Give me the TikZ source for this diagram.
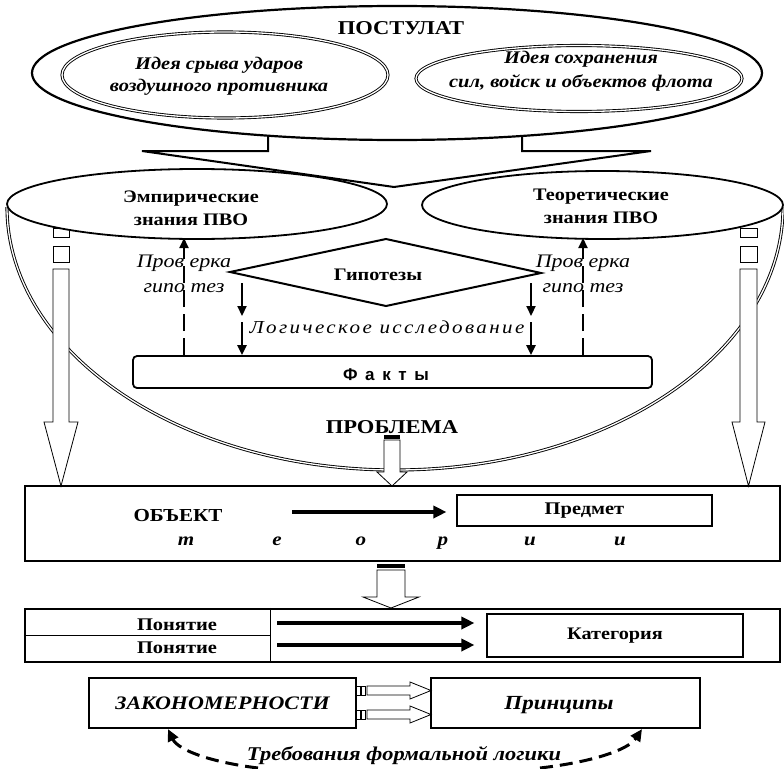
\documentclass[tikz,border=0pt]{standalone}
\usepackage{fontspec}
\setmainfont{Liberation Serif}[FakeStretch=1.15]
\newfontfamily\spacedit{Liberation Serif}[FakeStretch=1.15,LetterSpace=13]
\newfontfamily\spacedsans{Liberation Sans}[LetterSpace=45]
\usetikzlibrary{arrows.meta}
\newcommand{\fs}[1]{\fontsize{#1}{#1}\selectfont}
\begin{document}
\begin{tikzpicture}[x=1pt,y=-1pt,
  lbl/.style={inner sep=0pt, anchor=base},
  boxthick/.style={draw, line width=2.2pt, inner sep=0pt},
  boxthin/.style={draw, line width=1.1pt, inner sep=0pt},
  dbl/.style={double, double distance=1.3pt, line width=0.9pt},
  hollow/.style={draw, fill=white, line width=0.8pt, line join=miter},
  solidarr/.style={line width=2.2pt, -{Triangle[length=10pt,width=9pt]}},
  bigarr/.style={line width=3.5pt, -{Triangle[length=13pt,width=12pt]}},
  dasharr/.style={line width=2pt, dash pattern=on 17pt off 7pt, -{Triangle[length=10pt,width=9pt]}},
  dashcurve/.style={line width=3pt, dash pattern=on 13pt off 7pt, -{Triangle[length=12pt,width=11pt]}},
]
\useasboundingbox (0,0) rectangle (784,768);
\fill[white] (0,0) rectangle (784,768);

% bowl
\draw[dbl] (7,207) arc[start angle=180, end angle=0, x radius=388, y radius=263];

% hollow arrows left and right
\draw[hollow] (53,269) -- (69,269) -- (69,422) -- (78,422) -- (61,486) -- (44,422) -- (53,422) -- cycle;
\draw[hollow] (53,246) rectangle (69,262);
\draw[hollow] (53,228) rectangle (69,237);
\draw[hollow] (740,269) -- (757,269) -- (757,422) -- (765,422) -- (748.5,486) -- (732,422) -- (740,422) -- cycle;
\draw[hollow] (740,246) rectangle (757,262);
\draw[hollow] (740,228) rectangle (757,237);

% POSTULAT
\draw[line width=2.2pt] (397,73) ellipse [x radius=365, y radius=67];
\node[lbl, font=\bfseries\fs{19.6}] (post) at (401,35) {ПОСТУЛАТ};
\draw[dbl] (225,75) ellipse [x radius=163, y radius=43];
\draw[dbl] (579,78.5) ellipse [x radius=163, y radius=33];
\node[lbl, font=\bfseries\itshape\fs{17.8}] (i1a) at (219,70) {Идея срыва ударов};
\node[lbl, font=\bfseries\itshape\fs{17.8}] (i1b) at (219,92) {воздушного противника};
\node[lbl, font=\bfseries\itshape\fs{17.8}] (i2a) at (581,63.5) {Идея сохранения};
\node[lbl, font=\bfseries\itshape\fs{17.8}] (i2b) at (581,87) {сил, войск и объектов флота};

% knowledge ellipses
\draw[line width=1.8pt, fill=white] (197,204) ellipse [x radius=190, y radius=35];
\draw[line width=1.8pt, fill=white] (602.5,205) ellipse [x radius=180.5, y radius=34];
\node[lbl, font=\bfseries\fs{17.6}] (e1) at (191,202) {Эмпирические};
\node[lbl, font=\bfseries\fs{17.6}] (e2) at (191,225) {знания ПВО};
\node[lbl, font=\bfseries\fs{17.6}] (t1) at (601,200) {Теоретические};
\node[lbl, font=\bfseries\fs{17.6}] (t2) at (601,223) {знания ПВО};

% funnel
\draw[line width=2pt, line join=miter] (268,135) -- (268,151) -- (142,151) -- (394,187) -- (651,151) -- (522,151) -- (522,135);

% hypotheses
\draw[line width=2pt, fill=white, line join=miter] (230,272) -- (386,239) -- (541,273) -- (386,306) -- cycle;
\node[lbl, font=\bfseries\fs{17.6}] (hyp) at (378,280) {Гипотезы};

% facts
\node[draw, line width=1.8pt, rounded corners=4pt, minimum width=519pt, minimum height=32pt, inner sep=0pt] (fakty) at (392.5,372) {};
\node[lbl, font=\spacedsans\bfseries\fs{17}] (ftxt) at (386,380) {Факты};

% check hypotheses
\coordinate (dl) at (184,238);
\coordinate (dr) at (583,238);
\draw[dasharr] (fakty.north -| dl) -- (dl);
\draw[dasharr] (fakty.north -| dr) -- (dr);
\node[lbl, font=\itshape\fs{19.1}] (p1) at (184,267) {Пров ерка};
\node[lbl, font=\itshape\fs{19.1}] (g1) at (184,292) {гипо тез};
\node[lbl, font=\itshape\fs{19.1}] (p2) at (583,267) {Пров ерка};
\node[lbl, font=\itshape\fs{19.1}] (g2) at (583,292) {гипо тез};

% logical research
\coordinate (la) at (242,283);
\coordinate (lb) at (242,316);
\coordinate (lc) at (242,322);
\coordinate (ra) at (531,283);
\coordinate (rb) at (531,316);
\coordinate (rc) at (531,322);
\draw[solidarr] (la) -- (lb);
\draw[solidarr] (lc) -- (fakty.north -| lc);
\draw[solidarr] (ra) -- (rb);
\draw[solidarr] (rc) -- (fakty.north -| rc);
\node[lbl, font=\spacedit\itshape\fs{18.3}] (log) at (387,333) {Логическое исследование};

% problem
\node[lbl, font=\bfseries\fs{19.6}] (prob) at (392,433) {ПРОБЛЕМА};
\fill (384,434.5) rectangle (400,438.5);
\draw[hollow] (384,440) -- (400,440) -- (400,472) -- (407,472) -- (392,486) -- (377,472) -- (384,472) -- cycle;

% object box
\node[boxthick, minimum width=755pt, minimum height=75pt] (obj) at (402.5,523.5) {};
\node[boxthin, minimum width=255pt, minimum height=31pt, font=\bfseries\fs{17.8}] (pred) at (584.5,510.5) {Предмет};
\node[lbl, font=\bfseries\fs{18.3}] (objt) at (178,521) {ОБЪЕКТ};
\coordinate (oa) at (292,512);
\draw[bigarr, shorten >=10pt] (oa) -- (oa -| pred.west);
\foreach \xx/\ll [count=\i] in {186/т,277/е,361/о,443/р,530/и,620/и}
  \node[lbl, font=\bfseries\itshape\fs{18.3}] (th\i) at (\xx,545) {\ll};

% arrow down
\fill (377,563.5) rectangle (405,567.5);
\draw[hollow] (377,570) -- (405,570) -- (405,597) -- (419,597) -- (391,608) -- (363,597) -- (377,597) -- cycle;

% concepts box
\node[boxthick, minimum width=755pt, minimum height=53pt] (pon) at (402.5,635.5) {};
\coordinate (div) at (270,635.5);
\draw[line width=1pt] (div |- pon.north) -- (div |- pon.south);
\draw[line width=1pt] (pon.west) -- (div);
\node[lbl, font=\bfseries\fs{17.8}] (pn1) at (177,630) {Понятие};
\node[lbl, font=\bfseries\fs{17.8}] (pn2) at (177,653) {Понятие};
\node[boxthin, minimum width=256pt, minimum height=43pt, font=\bfseries\fs{17.6}] (kat) at (615,635.5) {Категория};
\coordinate (ka) at (277,623);
\coordinate (kb) at (277,645);
\draw[bigarr, shorten >=12pt] (ka) -- (ka -| kat.west);
\draw[bigarr, shorten >=12pt] (kb) -- (kb -| kat.west);

% laws and principles
\node[boxthick, minimum width=267pt, minimum height=50pt, font=\bfseries\itshape\fs{19.1}] (zak) at (222.5,703) {ЗАКОНОМЕРНОСТИ};
\node[boxthick, minimum width=269pt, minimum height=50pt] (pri) at (565.5,703) {};
\node[lbl, font=\bfseries\itshape\fs{20}] (prit) at (559,709) {Принципы};
\foreach \yy in {690.5,714.5} {
  \draw[hollow] (356.5,\yy-4.5) rectangle (360,\yy+4.5);
  \draw[hollow] (361.5,\yy-4.5) rectangle (365,\yy+4.5);
  \draw[hollow] (367,\yy-4.5) -- (410,\yy-4.5) -- (410,\yy-8.5) -- (431,\yy) -- (410,\yy+8.5) -- (410,\yy+4.5) -- (367,\yy+4.5) -- cycle;
}

% formal logic
\node[lbl, font=\bfseries\itshape\fs{19.5}] (treb) at (404,760) {Требования формальной логики};
\coordinate (cl) at (258,768);
\coordinate (cr) at (540,768);
\draw[dashcurve] (cl) .. controls (210,762) and (178,750) .. (zak.south -| 168,0);
\draw[dashcurve] (cr) .. controls (592,762) and (628,750) .. (pri.south -| 642,0);
\end{tikzpicture}
\end{document}
